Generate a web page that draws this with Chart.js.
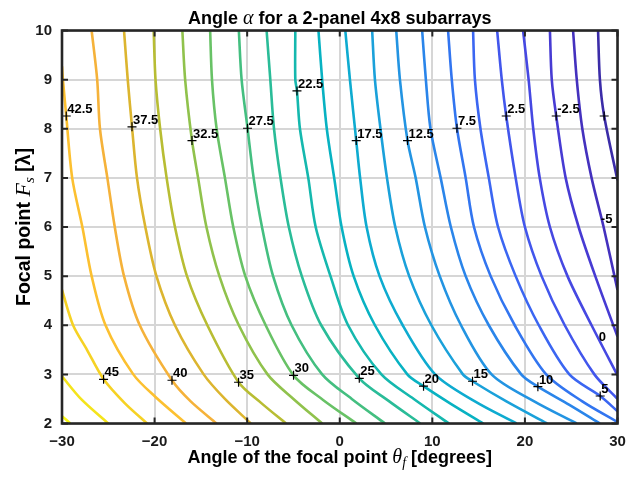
<!DOCTYPE html>
<html>
<head>
<meta charset="utf-8">
<script src="https://cdn.jsdelivr.net/npm/chart.js@4.4.1/dist/chart.umd.min.js"></script>
<style>
  html, body { margin: 0; padding: 0; background: #ffffff; }
  canvas { display: block; }
</style>
</head>
<body>
<canvas id="c" width="626" height="480"></canvas>
<script>
// ---------------- DATA ----------------
// contour levels of alpha
const levels = [50, 47.5, 45, 42.5, 40, 37.5, 35, 32.5, 30, 27.5, 25, 22.5, 20, 17.5, 15, 12.5, 10, 7.5, 5, 2.5, 0, -2.5, -5, -7.5];

// each contour: [theta_f (deg), F_s (lambda)] pairs, from top to bottom
const c50   = [[-30, 2.15], [-29.1, 2]];
const c47_5 = [[-30, 2.96], [-27.9, 2.49], [-25.0, 2]];
const c45   = [[-30, 4.72], [-28.8, 4], [-27.3, 3.5], [-25.5, 2.9], [-23.2, 2.41], [-20.8, 2]];
const c42_5 = [[-30, 9.27], [-29.9, 9], [-29.54, 8.26], [-28.9, 7], [-27.8, 6], [-26.8, 5], [-25.3, 4], [-22.3, 3], [-19.9, 2.54], [-16.6, 2]];
const c40   = [[-26.8, 10], [-26.2, 9], [-25.9, 8], [-25.1, 7], [-24.3, 6], [-23.3, 5], [-21.6, 4], [-18.12, 2.88], [-16.1, 2.45], [-13.3, 2]];
const c37_5 = [[-23.3, 10], [-22.9, 9], [-22.44, 8.04], [-21.9, 7], [-21.0, 6], [-19.8, 5], [-17.8, 4], [-14.7, 3], [-12.4, 2.5], [-9.6, 2]];
const c35   = [[-20.1, 10], [-19.9, 9], [-19.4, 8], [-18.7, 7], [-17.8, 6], [-16.5, 5], [-14.3, 4], [-10.93, 2.84], [-8.5, 2.42], [-5.8, 2]];
const c32_5 = [[-17.0, 10], [-16.7, 9], [-15.96, 7.76], [-15.3, 7], [-14.4, 6], [-13.0, 5], [-10.9, 4], [-7.8, 3], [-5.0, 2.5], [-1.9, 2]];
const c30   = [[-14.0, 10], [-13.8, 9], [-13.3, 8], [-12.4, 7], [-11.5, 6], [-10.2, 5], [-8.0, 4], [-4.99, 2.98], [-1.8, 2.48], [1.8, 2]];
const c27_5 = [[-10.9, 10], [-10.6, 9], [-9.96, 8.01], [-9.3, 7], [-8.4, 6], [-7.2, 5], [-5.2, 4], [-1.9, 3], [1.3, 2.5], [4.9, 2]];
const c25   = [[-7.9, 10], [-7.5, 9], [-7.1, 8], [-6.4, 7], [-5.5, 6], [-4.1, 5], [-2.0, 4], [2.11, 2.92], [5.2, 2.47], [8.7, 2]];
const c22_5 = [[-4.8, 10], [-4.8, 9], [-4.62, 8.77], [-4.3, 8], [-3.4, 7], [-2.6, 6], [-1.0, 5], [0.9, 4], [4.5, 3], [8.0, 2.5], [11.8, 2]];
const c20   = [[-2.3, 10], [-1.9, 9], [-1.4, 8], [-0.6, 7], [0.2, 6], [1.5, 5], [3.8, 4], [7.3, 3], [9.05, 2.76], [12.0, 2.4], [15.5, 2]];
const c17_5 = [[0.6, 10], [1.1, 9], [1.78, 7.76], [2.2, 7], [2.9, 6], [4.3, 5], [6.8, 4], [10.3, 3], [14.6, 2.45], [19.1, 2]];
const c15   = [[3.5, 10], [3.8, 9], [4.4, 8], [5.1, 7], [6.0, 6], [7.5, 5], [9.9, 4], [13.3, 3], [14.34, 2.86], [18.0, 2.45], [22.4, 2]];
const c12_5 = [[6.1, 10], [6.5, 9], [7.32, 7.76], [8.2, 7], [9.2, 6], [10.8, 5], [13.1, 4], [16.4, 3], [21.0, 2.45], [25.6, 2]];
const c10   = [[8.9, 10], [9.3, 9], [9.8, 8], [10.9, 7], [12.0, 6], [13.6, 5], [16.1, 4], [19.6, 3], [21.4, 2.75], [24.8, 2.38], [28.1, 2]];
const c7_5  = [[11.7, 10], [12.1, 9], [12.66, 8.01], [13.6, 7], [14.5, 6], [16.3, 5], [18.9, 4], [22.3, 3], [26.2, 2.45], [30, 2.03]];
const c5    = [[14.4, 10], [14.6, 9], [15.2, 8], [16.1, 7], [17.1, 6], [19.0, 5], [21.5, 4], [24.8, 3], [28.13, 2.56], [30, 2.25]];
const c2_5  = [[17.0, 10], [17.5, 9], [17.98, 8.26], [19.0, 7], [20.0, 6], [21.8, 5], [24.3, 4], [27.5, 3], [30, 2.5]];
const c0    = [[19.8, 10], [20.4, 9], [20.9, 8], [21.6, 7], [22.7, 6], [24.6, 5], [27.2, 4], [30, 2.98]];
const cm2_5 = [[22.7, 10], [22.9, 9], [23.38, 8.26], [24.4, 7], [25.8, 6], [27.6, 5], [30, 3.77]];
const cm5   = [[25.2, 10], [25.6, 9], [26.2, 8], [27.2, 7], [28.5, 6], [30, 4.72]];
const cm7_5 = [[27.9, 10], [28.1, 9], [28.56, 8.26], [30, 6.95]];

const contourData = [c50, c47_5, c45, c42_5, c40, c37_5, c35, c32_5, c30, c27_5, c25, c22_5, c20, c17_5, c15, c12_5, c10, c7_5, c5, c2_5, c0, cm2_5, cm5, cm7_5];

// contour labels (clabel): text, position, and whether a "+" marker is shown
const labelText  = ['42.5', '37.5', '32.5', '27.5', '22.5', '17.5', '12.5', '7.5', '2.5', '-2.5', '', '45', '40', '35', '30', '25', '20', '15', '10', '5', '-5', '0'];
const labelTheta = [-29.54, -22.44, -15.96, -9.96, -4.62, 1.78, 7.32, 12.66, 17.98, 23.38, 28.56, -25.51, -18.12, -10.93, -4.99, 2.11, 9.05, 14.34, 21.4, 28.13, 28.09, 27.87];
const labelF     = [8.26, 8.04, 7.76, 8.01, 8.77, 7.76, 7.76, 8.01, 8.26, 8.26, 8.26, 2.9, 2.88, 2.84, 2.98, 2.92, 2.76, 2.86, 2.75, 2.56, 6.02, 3.62];
const labelMark  = [true, true, true, true, true, true, true, true, true, true, true, true, true, true, true, true, true, true, true, true, false, false];

// axis ticks
const xTicks = [-30, -20, -10, 0, 10, 20, 30];
const yTicks = [2, 3, 4, 5, 6, 7, 8, 9, 10];

// ---------------- STYLE ----------------
const levelColors = ['#f9f814', '#f4e41c', '#f6d224', '#fcc030', '#f5b23a', '#dcb52f', '#b8bd33', '#90c24c', '#68c266', '#44bf80', '#2abc98', '#15b8ae', '#08b2c2', '#0eabd0', '#1aa1da', '#2394e2', '#2a85ea', '#3275f0', '#3b66f2', '#4256ec', '#4648e2', '#473bd3', '#4431be', '#3b2ca8'];
const SANS = "'Liberation Sans', Arial, Helvetica, sans-serif";
const SERIF = "'Liberation Serif', 'DejaVu Serif', 'Times New Roman', serif";

const datasets = contourData.map((pts, i) => ({
  label: 'alpha = ' + levels[i],
  data: pts.map(p => ({ x: p[0], y: p[1] })),
  showLine: true,
  borderColor: levelColors[i],
  backgroundColor: levelColors[i],
  borderWidth: 2.6,
  pointRadius: 0,
  tension: 0.3,
  fill: false,
  order: 1
}));

const markIdx = labelMark.map((m, i) => m ? i : -1).filter(i => i >= 0);
datasets.push({
  label: 'labels',
  data: markIdx.map(i => ({ x: labelTheta[i], y: labelF[i] })),
  showLine: false,
  pointStyle: 'cross',
  pointRadius: 4.5,
  borderColor: '#000000',
  backgroundColor: '#000000',
  borderWidth: 1.2,
  order: -1
});

function drawRich(ctx, segs, x, y, angle) {
  ctx.save();
  ctx.translate(x, y);
  ctx.rotate(angle);
  ctx.textBaseline = 'alphabetic';
  ctx.textAlign = 'left';
  let total = 0;
  segs.forEach(s => { ctx.font = s.font; s.w = ctx.measureText(s.t).width; total += s.w; });
  let cx = -total / 2;
  segs.forEach(s => {
    ctx.font = s.font;
    ctx.fillStyle = s.color || '#000000';
    ctx.fillText(s.t, cx, s.dy || 0);
    cx += s.w;
  });
  ctx.restore();
}

const overlay = {
  id: 'overlay',
  beforeDraw(chart) {
    const ctx = chart.ctx;
    ctx.save();
    ctx.fillStyle = '#ffffff';
    ctx.fillRect(0, 0, chart.width, chart.height);
    ctx.restore();
  },
  afterDatasetsDraw(chart) {
    const ctx = chart.ctx;
    const a = chart.chartArea;
    const xs = chart.scales.x, ys = chart.scales.y;
    ctx.save();
    // contour label texts
    ctx.font = 'bold 13px ' + SANS;
    ctx.fillStyle = '#000000';
    ctx.textBaseline = 'alphabetic';
    ctx.textAlign = 'left';
    labelText.forEach((t, i) => {
      if (!t) return;
      const px = xs.getPixelForValue(labelTheta[i]);
      const py = ys.getPixelForValue(labelF[i]);
      ctx.fillText(t, px + 1, py - 3);
    });
    // inward tick marks
    ctx.strokeStyle = '#262626';
    ctx.lineWidth = 2;
    const tl = 6;
    xTicks.forEach(v => {
      const px = xs.getPixelForValue(v);
      ctx.beginPath();
      ctx.moveTo(px, a.bottom); ctx.lineTo(px, a.bottom - tl);
      ctx.moveTo(px, a.top); ctx.lineTo(px, a.top + tl);
      ctx.stroke();
    });
    yTicks.forEach(v => {
      const py = ys.getPixelForValue(v);
      ctx.beginPath();
      ctx.moveTo(a.left, py); ctx.lineTo(a.left + tl, py);
      ctx.moveTo(a.right, py); ctx.lineTo(a.right - tl, py);
      ctx.stroke();
    });
    // axes box
    ctx.strokeStyle = '#262626';
    ctx.lineWidth = 2.6;
    ctx.strokeRect(a.left, a.top, a.right - a.left, a.bottom - a.top);
    ctx.restore();

    // title and axis titles
    const cxm = (a.left + a.right) / 2;
    const cym = (a.top + a.bottom) / 2;
    drawRich(ctx, [
      { t: 'Angle ', font: 'bold 18px ' + SANS },
      { t: '\u03B1', font: 'italic 20px ' + SERIF },
      { t: ' for a 2-panel 4x8 subarrays', font: 'bold 18px ' + SANS }
    ], cxm, 24, 0);
    drawRich(ctx, [
      { t: 'Angle of the focal point ', font: 'bold 18px ' + SANS },
      { t: '\u03B8', font: 'italic 20px ' + SERIF },
      { t: 'f', font: 'italic 14px ' + SERIF, dy: 4 },
      { t: ' [degrees]', font: 'bold 18px ' + SANS }
    ], cxm, 463, 0);
    drawRich(ctx, [
      { t: 'Focal point ', font: 'bold 19.5px ' + SANS },
      { t: 'F', font: 'italic 22px ' + SERIF },
      { t: 's', font: 'italic 15px ' + SERIF, dy: 4 },
      { t: ' [\u03BB]', font: 'bold 19.5px ' + SANS }
    ], 30, cym, -Math.PI / 2);
  }
};

const tickFont = { family: SANS, size: 15, weight: 'bold' };

new Chart(document.getElementById('c').getContext('2d'), {
  type: 'scatter',
  data: { datasets },
  options: {
    responsive: false,
    animation: false,
    devicePixelRatio: 1,
    layout: { padding: { top: 30.5, right: 8.5, left: 0, bottom: 0 } },
    plugins: { legend: { display: false }, tooltip: { enabled: false }, title: { display: false } },
    scales: {
      x: {
        type: 'linear', min: -30, max: 30,
        afterBuildTicks: s => { s.ticks = xTicks.map(v => ({ value: v })); },
        afterFit: s => { s.height = 56.5; s.paddingLeft = 0; s.paddingRight = 0; },
        grid: { color: '#d6d6d6', lineWidth: 2, drawTicks: false },
        border: { display: false },
        ticks: {
          font: tickFont, color: '#1a1a1a', padding: 9, maxRotation: 0, autoSkip: false,
          callback: v => String(v).replace('-', '\u2212')
        }
      },
      y: {
        type: 'linear', min: 2, max: 10,
        afterBuildTicks: s => { s.ticks = yTicks.map(v => ({ value: v })); },
        afterFit: s => { s.width = 62; s.paddingTop = 0; s.paddingBottom = 0; },
        grid: { color: '#d6d6d6', lineWidth: 2, drawTicks: false },
        border: { display: false },
        ticks: { font: tickFont, color: '#1a1a1a', padding: 10, autoSkip: false }
      }
    }
  },
  plugins: [overlay]
});
</script>
</body>
</html>
